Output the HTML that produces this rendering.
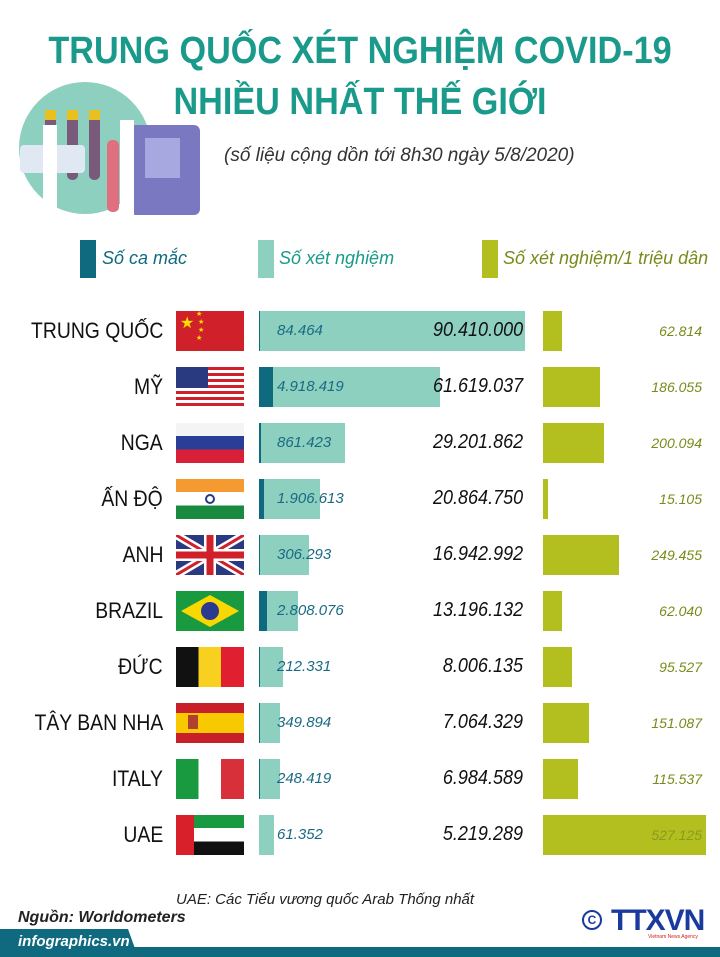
<!DOCTYPE html>
<html><head><meta charset="utf-8"><style>
*{margin:0;padding:0;box-sizing:border-box}
body{width:720px;height:957px;background:#fff;position:relative;overflow:hidden;font-family:"Liberation Sans",sans-serif}
.a{position:absolute;white-space:nowrap}
.t{color:#1a9a8a;font-weight:bold;font-size:38px;left:0;width:720px;text-align:center;transform:scaleX(0.9);transform-origin:360px 0}
.cn{right:557px;font-size:22px;color:#111;transform:scaleX(0.88);transform-origin:right center}
.fl{left:176px;width:68px;height:40px;overflow:hidden}
.tb{left:259px;height:40px;background:#8dd0c0}
.db{left:259px;height:40px;background:#0f6a80}
.tn{left:277px;font-size:15px;font-style:italic;color:#1a6a84}
.bn{right:197px;font-size:20px;font-style:italic;color:#111;transform:scaleX(0.9);transform-origin:right center}
.gb{left:543px;height:40px;background:#b3bf1f}
.gn{right:18px;font-size:14px;font-style:italic;color:#7a8a1a}
</style></head><body>
<div class="a t" style="top:30px">TRUNG QUỐC XÉT NGHIỆM COVID-19</div>
<div class="a t" style="top:81px">NHIỀU NHẤT THẾ GIỚI</div>
<div class="a" style="left:224px;top:145px;font-size:19px;font-style:italic;color:#333">(số liệu cộng dồn tới 8h30 ngày 5/8/2020)</div>
<svg class="a" style="left:15px;top:80px" width="190" height="140">
<circle cx="70" cy="68" r="66" fill="#8dd0c0"/>
<rect x="30" y="30" width="11" height="70" rx="5" fill="#7a5a7a"/><rect x="52" y="30" width="11" height="70" rx="5" fill="#7a5a7a"/><rect x="74" y="30" width="11" height="70" rx="5" fill="#7a5a7a"/>
<rect x="30" y="30" width="11" height="10" fill="#e8c020"/><rect x="52" y="30" width="11" height="10" fill="#e8c020"/><rect x="74" y="30" width="11" height="10" fill="#e8c020"/>
<rect x="115" y="45" width="70" height="90" rx="6" fill="#7a78c0"/>
<rect x="130" y="58" width="35" height="40" fill="#a8a8e0"/>
<rect x="5" y="65" width="65" height="28" rx="4" fill="#e0e8f4"/>
<rect x="105" y="40" width="14" height="95" fill="#fff"/>
<rect x="92" y="60" width="12" height="72" rx="5" fill="#e07080"/>
<rect x="28" y="45" width="14" height="90" fill="#fff"/>
</svg>
<div class="a" style="left:80px;top:240px;width:16px;height:38px;background:#0f6a80"></div>
<div class="a" style="left:102px;top:248px;font-size:18px;font-style:italic;color:#0f6a80">Số ca mắc</div>
<div class="a" style="left:258px;top:240px;width:16px;height:38px;background:#8dd0c0"></div>
<div class="a" style="left:279px;top:248px;font-size:18px;font-style:italic;color:#1a9a8a">Số xét nghiệm</div>
<div class="a" style="left:482px;top:240px;width:16px;height:38px;background:#b3bf1f"></div>
<div class="a" style="left:503px;top:248px;font-size:18px;font-style:italic;color:#7a8a1a">Số xét nghiệm/1 triệu dân</div>

<div class="a cn" style="top:318px">TRUNG QUỐC</div>
<div class="a fl" style="top:311px;background:#d0202a"><span style="position:absolute;left:4px;top:2px;color:#ffde00;font-size:16px">★</span><span style="position:absolute;left:20px;top:0;color:#ffde00;font-size:7px;line-height:8px">★<br>&nbsp;★<br>&nbsp;★<br>★</span></div>
<div class="a tb" style="top:311px;width:266px"></div><div class="a db" style="top:311px;width:1px"></div>
<div class="a tn" style="top:322px">84.464</div><div class="a bn" style="top:319px">90.410.000</div>
<div class="a gb" style="top:311px;width:19px"></div><div class="a gn" style="top:323px">62.814</div>

<div class="a cn" style="top:374px">MỸ</div>
<div class="a fl" style="top:367px;background:repeating-linear-gradient(#d0202a 0 3px,#fff 3px 6px)"><div style="width:32px;height:21px;background:#2a3a80"></div></div>
<div class="a tb" style="top:367px;width:181px"></div><div class="a db" style="top:367px;width:14px"></div>
<div class="a tn" style="top:378px">4.918.419</div><div class="a bn" style="top:375px">61.619.037</div>
<div class="a gb" style="top:367px;width:57px"></div><div class="a gn" style="top:379px">186.055</div>

<div class="a cn" style="top:430px">NGA</div>
<div class="a fl" style="top:423px;background:linear-gradient(#f4f4f4 0 33%,#2a3e98 33% 66%,#d82038 66%)"></div>
<div class="a tb" style="top:423px;width:86px"></div><div class="a db" style="top:423px;width:2px"></div>
<div class="a tn" style="top:434px">861.423</div><div class="a bn" style="top:431px">29.201.862</div>
<div class="a gb" style="top:423px;width:61px"></div><div class="a gn" style="top:435px">200.094</div>

<div class="a cn" style="top:486px">ẤN ĐỘ</div>
<div class="a fl" style="top:479px;background:linear-gradient(#f49a30 0 33%,#fff 33% 66%,#1a8a40 66%)"><div style="position:absolute;left:29px;top:15px;width:10px;height:10px;border-radius:50%;border:2px solid #2a3a80"></div></div>
<div class="a tb" style="top:479px;width:61px"></div><div class="a db" style="top:479px;width:5px"></div>
<div class="a tn" style="top:490px">1.906.613</div><div class="a bn" style="top:487px">20.864.750</div>
<div class="a gb" style="top:479px;width:5px"></div><div class="a gn" style="top:491px">15.105</div>

<div class="a cn" style="top:542px">ANH</div>
<svg class="a" style="left:176px;top:535px" width="68" height="40"><rect width="68" height="40" fill="#2a3a80"/><path d="M0 0L68 40M68 0L0 40" stroke="#fff" stroke-width="8"/><path d="M0 0L68 40M68 0L0 40" stroke="#d0202a" stroke-width="3"/><path d="M34 0V40M0 20H68" stroke="#fff" stroke-width="12"/><path d="M34 0V40M0 20H68" stroke="#d0202a" stroke-width="7"/></svg>
<div class="a tb" style="top:535px;width:50px"></div><div class="a db" style="top:535px;width:1px"></div>
<div class="a tn" style="top:546px">306.293</div><div class="a bn" style="top:543px">16.942.992</div>
<div class="a gb" style="top:535px;width:76px"></div><div class="a gn" style="top:547px">249.455</div>

<div class="a cn" style="top:598px">BRAZIL</div>
<svg class="a" style="left:176px;top:591px" width="68" height="40"><rect width="68" height="40" fill="#1a9a40"/><path d="M34 4L63 20L34 36L5 20Z" fill="#f8d800"/><circle cx="34" cy="20" r="9" fill="#2a3a90"/></svg>
<div class="a tb" style="top:591px;width:39px"></div><div class="a db" style="top:591px;width:8px"></div>
<div class="a tn" style="top:602px">2.808.076</div><div class="a bn" style="top:599px">13.196.132</div>
<div class="a gb" style="top:591px;width:19px"></div><div class="a gn" style="top:603px">62.040</div>

<div class="a cn" style="top:654px">ĐỨC</div>
<div class="a fl" style="top:647px;background:linear-gradient(90deg,#111 0 33%,#f8d020 33% 66%,#e02030 66%)"></div>
<div class="a tb" style="top:647px;width:24px"></div><div class="a db" style="top:647px;width:1px"></div>
<div class="a tn" style="top:658px">212.331</div><div class="a bn" style="top:655px">8.006.135</div>
<div class="a gb" style="top:647px;width:29px"></div><div class="a gn" style="top:659px">95.527</div>

<div class="a cn" style="top:710px">TÂY BAN NHA</div>
<div class="a fl" style="top:703px;background:linear-gradient(#c8202a 0 25%,#f8c800 25% 75%,#c8202a 75%)"><div style="position:absolute;left:12px;top:12px;width:10px;height:14px;background:#b04030"></div></div>
<div class="a tb" style="top:703px;width:21px"></div><div class="a db" style="top:703px;width:1px"></div>
<div class="a tn" style="top:714px">349.894</div><div class="a bn" style="top:711px">7.064.329</div>
<div class="a gb" style="top:703px;width:46px"></div><div class="a gn" style="top:715px">151.087</div>

<div class="a cn" style="top:766px">ITALY</div>
<div class="a fl" style="top:759px;background:linear-gradient(90deg,#1a9a40 0 33%,#fff 33% 66%,#d8303a 66%)"></div>
<div class="a tb" style="top:759px;width:21px"></div><div class="a db" style="top:759px;width:1px"></div>
<div class="a tn" style="top:770px">248.419</div><div class="a bn" style="top:767px">6.984.589</div>
<div class="a gb" style="top:759px;width:35px"></div><div class="a gn" style="top:771px">115.537</div>

<div class="a cn" style="top:822px">UAE</div>
<div class="a fl" style="top:815px;background:linear-gradient(#1a9a40 0 33%,#fff 33% 66%,#111 66%)"><div style="width:18px;height:40px;background:#d8202a"></div></div>
<div class="a tb" style="top:815px;width:15px"></div>
<div class="a tn" style="top:826px">61.352</div><div class="a bn" style="top:823px">5.219.289</div>
<div class="a gb" style="top:815px;width:163px"></div><div class="a gn" style="top:827px;color:#8a9a20">527.125</div>

<div class="a" style="left:176px;top:891px;font-size:15px;font-style:italic;color:#222">UAE: Các Tiểu vương quốc Arab Thống nhất</div>
<div class="a" style="left:18px;top:909px;font-size:16px;font-style:italic;font-weight:bold;color:#222">Nguồn: Worldometers</div>
<div class="a" style="left:0;top:947px;width:720px;height:10px;background:#0f6a80"></div>
<div class="a" style="left:0;top:929px;width:138px;height:28px;background:#0f6a80;clip-path:polygon(0 0,128px 0,138px 100%,0 100%)"></div>
<div class="a" style="left:18px;top:933px;font-size:15px;font-style:italic;font-weight:bold;color:#fff">infographics.vn</div>
<div class="a" style="left:582px;top:910px;width:20px;height:20px;border:2px solid #1a3aa0;border-radius:50%;color:#1a3aa0;font-size:12px;text-align:center;line-height:16px;font-weight:bold">C</div>
<div class="a" style="left:611px;top:904px;font-size:30px;font-weight:900;color:#1a3aa0;letter-spacing:-1px">TTXVN</div>
<div class="a" style="left:648px;top:934px;font-size:5px;color:#d02020">Vietnam News Agency</div>
</body></html>
